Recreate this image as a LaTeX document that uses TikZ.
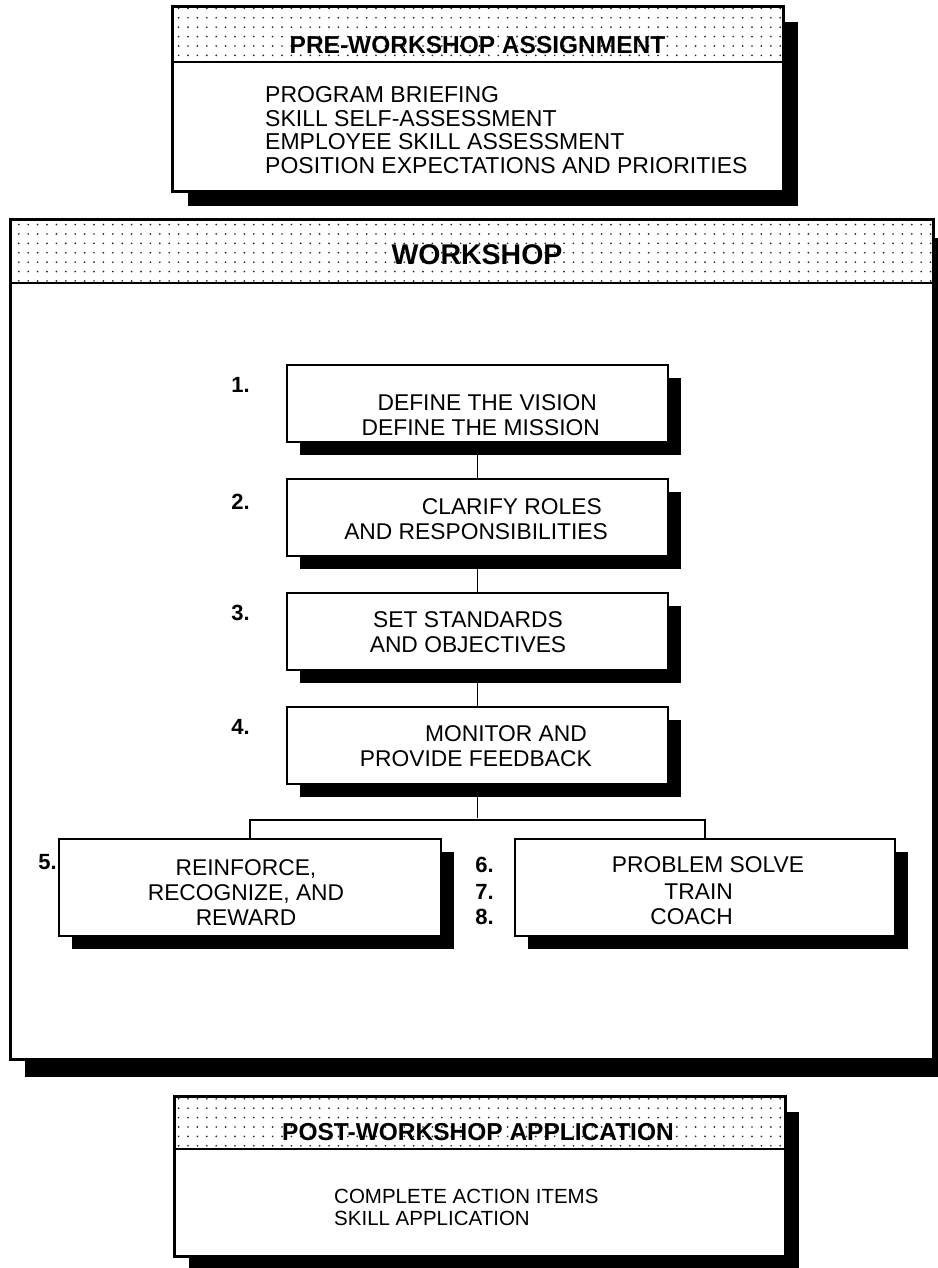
\documentclass[tikz,border=0pt]{standalone}
\usepackage{fontspec}
\setmainfont{Liberation Sans}
\usetikzlibrary{shadows,patterns}
\pgfdeclarepatternformonly{mydots}{\pgfqpoint{-1.5pt}{-1.5pt}}{\pgfqpoint{1.5pt}{1.5pt}}{\pgfqpoint{9.4pt}{9.4pt}}{%
  \pgfpathcircle{\pgfqpoint{0pt}{0pt}}{0.95pt}\pgfusepath{fill}}
\tikzset{
  frame/.style={draw, line width=2pt, fill=white, inner sep=0pt},
  stepbox/.style={draw, line width=1.8pt, fill=white, inner sep=0pt,
     minimum width=381pt, minimum height=77pt,
     drop shadow={shadow xshift=13pt, shadow yshift=-13pt, opacity=1, fill=black}},
  body/.style={font=\fontsize{22.8}{25}\selectfont, inner sep=0pt},
  num/.style={font=\fontsize{22}{26}\selectfont\bfseries, inner sep=0pt, anchor=east},
  head/.style={font=\fontsize{24.5}{28}\selectfont\bfseries, inner sep=0pt},
  link/.style={line width=1.5pt},
  band/.style={pattern=mydots, pattern color=black!85}
}
\begin{document}
\begin{tikzpicture}[x=1pt,y=-1pt]
\useasboundingbox (0,0) rectangle (937,1268);
\fill[white] (0,0) rectangle (937,1268);

% ---------- PRE-WORKSHOP ----------
\node[frame, minimum width=610pt, minimum height=184pt,
  drop shadow={shadow xshift=15pt, shadow yshift=-15pt, opacity=1, fill=black}] (pre) at (478,99) {};
\fill[band] (pre.north west) rectangle (pre.east |- 0,62);
\draw[line width=2pt] (pre.west |- 0,62) -- (pre.east |- 0,62);
\draw[line width=2pt] (pre.north west) rectangle (pre.south east);
\node[head] (preh) at (477.5,45) {PRE-WORKSHOP ASSIGNMENT};
\node[body, font=\fontsize{23}{23.5}\selectfont, align=left, anchor=west] (prel) at (265,130)
  {PROGRAM BRIEFING\\SKILL SELF-ASSESSMENT\\EMPLOYEE SKILL ASSESSMENT\\POSITION EXPECTATIONS AND PRIORITIES};

% ---------- WORKSHOP ----------
\node[frame, minimum width=922pt, minimum height=839pt,
  drop shadow={shadow xshift=14pt, shadow yshift=-18pt, opacity=1, fill=black}] (ws) at (472,639.5) {};
\fill[band] (ws.north west) rectangle (ws.east |- 0,283);
\draw[line width=2pt] (ws.west |- 0,283) -- (ws.east |- 0,283);
\draw[line width=2pt] (ws.north west) rectangle (ws.south east);
\node[head, font=\fontsize{28.5}{32}\selectfont\bfseries] (wsh) at (477,255) {WORKSHOP};

% step boxes
\node[stepbox] (b1) at (477.5,403.5) {};
\node[stepbox] (b2) at (477.5,517.5) {};
\node[stepbox] (b3) at (477.5,631.5) {};
\node[stepbox] (b4) at (477.5,745.5) {};
\node[stepbox, minimum width=382pt, minimum height=97pt] (b5) at (250,887.5) {};
\node[stepbox, minimum width=380pt, minimum height=97pt] (b6) at (705,887.5) {};

% connectors
\coordinate (j) at (477.5,820);
\draw[link] (b1.south) -- (b2.north);
\draw[link] (b2.south) -- (b3.north);
\draw[link] (b3.south) -- (b4.north);
\draw[link] (b4.south) -- ([yshift=2pt]j);
\draw[link] (b5.north) |- (j) -| (b6.north);

% box texts
\node[body, align=right, anchor=east] (t1) at (600,415.5) {DEFINE THE VISION\hspace*{3pt}\\DEFINE THE MISSION};
\node[body, align=right, anchor=east] (t2) at (608,519.5) {CLARIFY ROLES\hspace*{6pt}\\AND RESPONSIBILITIES};
\node[body, align=center] (t3) at (468,632.5) {SET STANDARDS\\AND OBJECTIVES};
\node[body, align=right, anchor=east] (t4) at (592,746.5) {MONITOR AND\hspace*{5pt}\\PROVIDE FEEDBACK};
\node[body, align=center] (t5) at (246,892.5) {REINFORCE,\\RECOGNIZE, AND\\REWARD};
\node[body] (t6a) at (708,865) {PROBLEM SOLVE};
\node[body, align=right, anchor=east] (t6b) at (733,904.5) {TRAIN\\COACH};

% numbers
\node[num] (n1) at (250,385) {1.};
\node[num] (n2) at (250,502) {2.};
\node[num] (n3) at (250,613) {3.};
\node[num] (n4) at (250,727) {4.};
\node[num] (n5) at (57,862) {5.};
\node[num] (n6) at (494,865) {6.};
\node[num] (n7) at (494,892) {7.};
\node[num] (n8) at (494,917) {8.};

% ---------- POST-WORKSHOP ----------
\node[frame, minimum width=610pt, minimum height=159pt,
  drop shadow={shadow xshift=14pt, shadow yshift=-15pt, opacity=1, fill=black}] (post) at (480,1176.5) {};
\fill[band] (post.north west) rectangle (post.east |- 0,1149);
\draw[line width=2pt] (post.west |- 0,1149) -- (post.east |- 0,1149);
\draw[line width=2pt] (post.north west) rectangle (post.south east);
\node[head] (posth) at (478,1132) {POST-WORKSHOP APPLICATION};
\node[body, font=\fontsize{20.5}{22}\selectfont, align=left, anchor=west] (postl) at (334,1207.5)
  {COMPLETE ACTION ITEMS\\SKILL APPLICATION};
\end{tikzpicture}
\end{document}
